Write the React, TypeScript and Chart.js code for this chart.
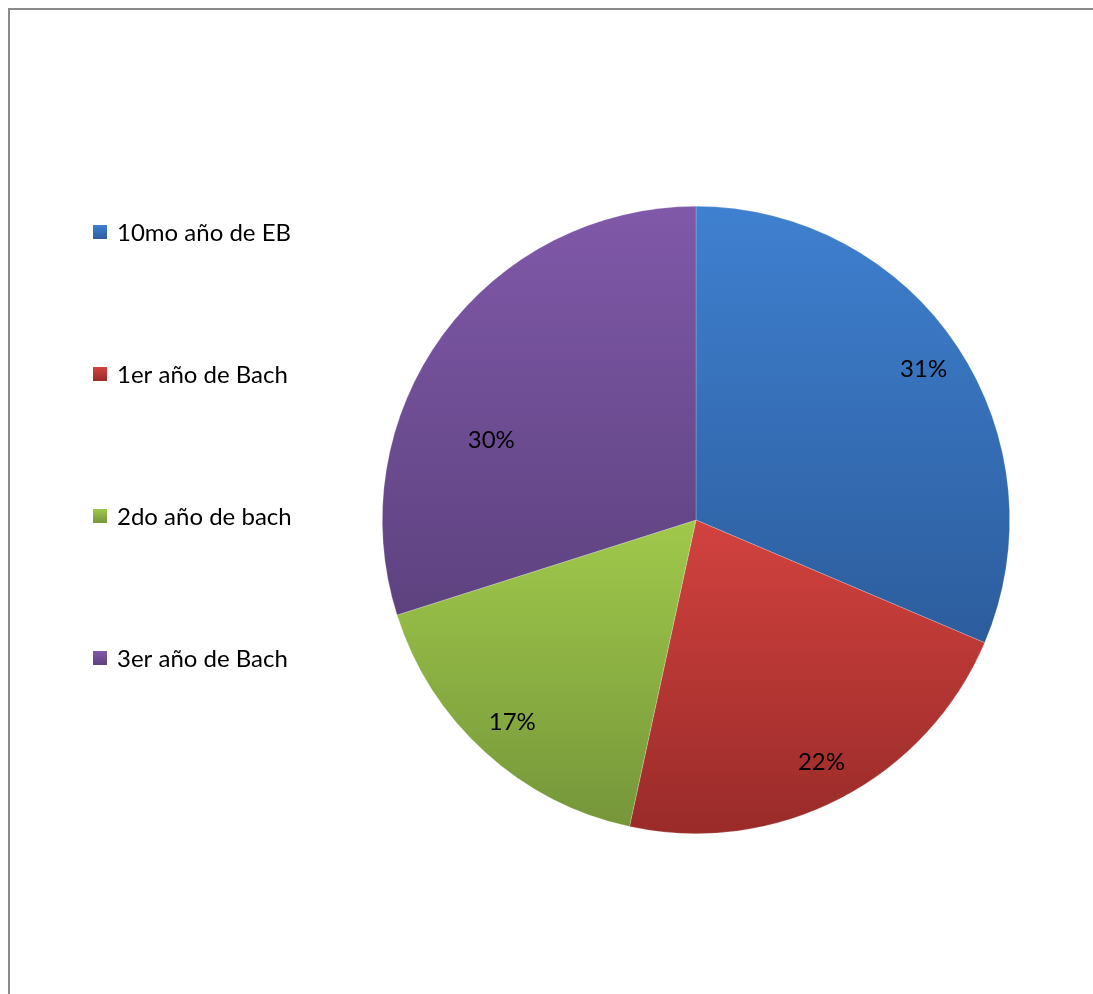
import React, { useEffect, useRef } from "react";
import { Chart, registerables } from "chart.js";

Chart.register(...registerables);

const categories = ["10mo año de EB", "1er año de Bach", "2do año de bach", "3er año de Bach"];
const values = [31.4, 22.0, 16.7, 29.9];
const lightColors = ["#3f80d0", "#d2423f", "#a0c94b", "#8059a9"];
const darkColors = ["#2c5d9d", "#992b29", "#76963a", "#5d427f"];
// label placement (fraction of radius, angle shift in degrees) per slice
const labelRadius = [0.87, 0.87, 0.87, 0.7];
const labelShift = [0, 0, 0, -15];

const FONT_FAMILY = "Lato, 'Open Sans', sans-serif";
const FONT_SIZE = 24;

function sliceGradient(ctx: any, i: number) {
  const chart = ctx.chart;
  const area = chart.chartArea;
  if (!area) return lightColors[i];
  const cy = (area.top + area.bottom) / 2;
  const r = Math.min(area.right - area.left, area.bottom - area.top) / 2;
  const total = values.reduce((a, b) => a + b, 0);
  let before = 0;
  for (let k = 0; k < i; k++) before += values[k];
  const a0 = -Math.PI / 2 + (before / total) * Math.PI * 2;
  const a1 = a0 + (values[i] / total) * Math.PI * 2;
  const ys = [0, Math.sin(a0), Math.sin(a1)];
  for (let k = -2; k <= 4; k++) {
    const a = -Math.PI / 2 + k * Math.PI;
    if (a > a0 && a < a1) ys.push(Math.sin(a));
  }
  const y0 = cy + r * Math.min(...ys);
  const y1 = cy + r * Math.max(...ys);
  const g = chart.ctx.createLinearGradient(0, y0, 0, y1);
  g.addColorStop(0, lightColors[i]);
  g.addColorStop(1, darkColors[i]);
  return g;
}

const labelsPlugin = {
  id: "pctLabels",
  afterDatasetsDraw(chart: any) {
    const ctx = chart.ctx;
    const meta = chart.getDatasetMeta(0);
    const data = chart.data.datasets[0].data as number[];
    const total = data.reduce((a, b) => a + b, 0);
    ctx.save();
    ctx.font = `${FONT_SIZE}px ${FONT_FAMILY}`;
    ctx.fillStyle = "#000";
    ctx.textAlign = "center";
    ctx.textBaseline = "middle";
    meta.data.forEach((arc: any, i: number) => {
      const p = arc.getProps(["x", "y", "startAngle", "endAngle", "outerRadius"], true);
      const mid = (p.startAngle + p.endAngle) / 2 + (labelShift[i] * Math.PI) / 180;
      const rr = p.outerRadius * labelRadius[i];
      const x = p.x + Math.cos(mid) * rr;
      const y = p.y + Math.sin(mid) * rr;
      ctx.fillText(Math.round((data[i] / total) * 100) + "%", x, y);
    });
    ctx.restore();
  },
};

const legendPlugin = {
  id: "sideLegend",
  afterDraw(chart: any) {
    const ctx = chart.ctx;
    const labels = chart.data.labels as string[];
    ctx.save();
    ctx.font = `${FONT_SIZE}px ${FONT_FAMILY}`;
    ctx.textAlign = "left";
    ctx.textBaseline = "middle";
    labels.forEach((lab, i) => {
      const yc = 224 + i * 142;
      const g = ctx.createLinearGradient(0, yc - 7, 0, yc + 7);
      g.addColorStop(0, lightColors[i]);
      g.addColorStop(1, darkColors[i]);
      ctx.fillStyle = g;
      ctx.fillRect(85, yc - 7, 14, 14);
      ctx.fillStyle = "#000";
      ctx.fillText(lab, 109, yc + 1);
    });
    ctx.restore();
  },
};

export default function App() {
  const ref = useRef<HTMLCanvasElement>(null);
  useEffect(() => {
    if (!ref.current) return;
    const chart = new Chart(ref.current, {
      type: "pie",
      data: {
        labels: categories,
        datasets: [
          {
            data: values,
            backgroundColor: (ctx: any) => sliceGradient(ctx, ctx.dataIndex),
            borderWidth: 0.6,
            borderColor: "rgba(255,255,255,0.35)",
          },
        ],
      },
      options: {
        responsive: false,
        animation: false,
        layout: { padding: { left: 374, right: 83, top: 198, bottom: 160 } },
        plugins: {
          legend: { display: false },
          tooltip: { enabled: false },
          title: { display: false },
        },
      },
      plugins: [labelsPlugin, legendPlugin],
    });
    return () => chart.destroy();
  }, []);
  return (
    <div style={{ position: "fixed", left: 8, top: 8, width: 1085, height: 986, overflow: "hidden", background: "#fff" }}>
      <div
        style={{
          position: "absolute",
          left: 0,
          top: 0,
          width: 1130,
          height: 1030,
          border: "2px solid #8c8c8c",
          boxSizing: "border-box",
        }}
      />
      <canvas ref={ref} width={1085} height={986} style={{ position: "absolute", left: 0, top: 0 }} />
    </div>
  );
}
